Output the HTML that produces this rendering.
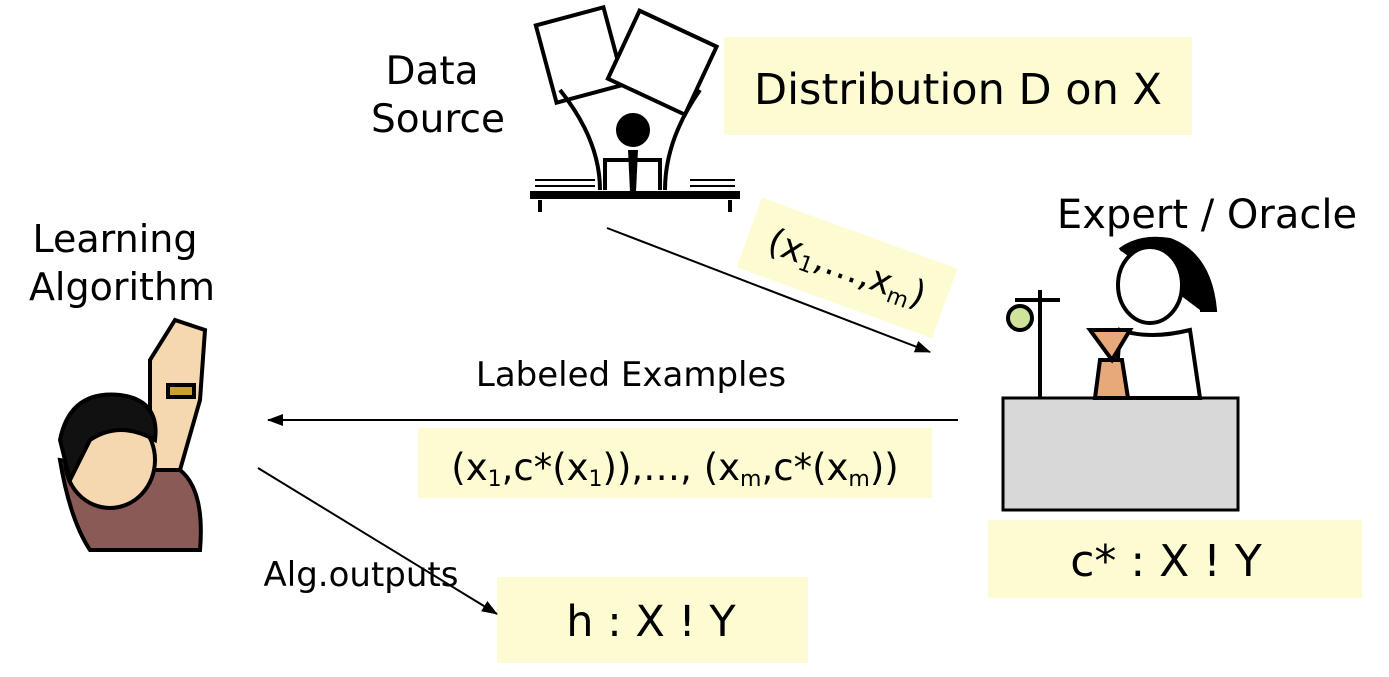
<!DOCTYPE html>
<html><head><meta charset="utf-8"><style>
body{margin:0;width:1389px;height:677px;background:#fff;overflow:hidden;font-family:"Comic Sans MS","DejaVu Sans","Liberation Sans",sans-serif;}
svg{position:absolute;left:0;top:0}
</style></head><body>
<svg width="1389" height="677" viewBox="0 0 1389 677" font-family="'Comic Sans MS','DejaVu Sans','Liberation Sans',sans-serif">
<defs><marker id="a" markerWidth="16" markerHeight="12" refX="15" refY="6" orient="auto" markerUnits="userSpaceOnUse"><path d="M0,0 L16,6 L0,12 z" fill="#000"/></marker></defs>
<rect x="724" y="37" width="468" height="98" fill="#fdfbd2"/>
<text x="958" y="104" font-size="43" text-anchor="middle">Distribution D on X</text>
<rect x="418" y="428" width="514" height="70" fill="#fdfbd2"/>
<text x="675" y="480" font-size="37" text-anchor="middle">(x<tspan font-size="22" dy="6">1</tspan><tspan dy="-6">,c*(x</tspan><tspan font-size="22" dy="6">1</tspan><tspan dy="-6">)),…, (x</tspan><tspan font-size="22" dy="6">m</tspan><tspan dy="-6">,c*(x</tspan><tspan font-size="22" dy="6">m</tspan><tspan dy="-6">))</tspan></text>
<rect x="988" y="520" width="374" height="78" fill="#fdfbd2"/>
<text x="1166" y="576" font-size="44" text-anchor="middle">c* : X ! Y</text>
<rect x="497" y="577" width="311" height="86" fill="#fdfbd2"/>
<text x="651" y="636" font-size="43" text-anchor="middle">h : X ! Y</text>
<g transform="translate(847,268) rotate(20)">
<rect x="-104" y="-37" width="208" height="74" fill="#fdfbd2"/>
<text x="0" y="12" font-size="36" text-anchor="middle">(x<tspan font-size="22" dy="6">1</tspan><tspan dy="-6">,…,x</tspan><tspan font-size="22" dy="6">m</tspan><tspan dy="-6">)</tspan></text>
</g>
<text x="432" y="84" font-size="39" text-anchor="middle">Data</text>
<text x="438" y="132" font-size="39" text-anchor="middle">Source</text>
<text x="1207" y="228" font-size="40" text-anchor="middle">Expert / Oracle</text>
<text x="115" y="252" font-size="38" text-anchor="middle">Learning</text>
<text x="122" y="300" font-size="38" text-anchor="middle">Algorithm</text>
<text x="631" y="386" font-size="34" text-anchor="middle">Labeled Examples</text>
<text x="361" y="586" font-size="34" text-anchor="middle">Alg.outputs</text>
<line x1="607" y1="228" x2="930" y2="352" stroke="#000" stroke-width="2" marker-end="url(#a)"/>
<line x1="958" y1="420" x2="268" y2="420" stroke="#000" stroke-width="2" marker-end="url(#a)"/>
<line x1="258" y1="468" x2="497" y2="614" stroke="#000" stroke-width="2" marker-end="url(#a)"/>
<g stroke="#000" stroke-width="4" fill="none">
<rect x="545" y="15" width="70" height="80" transform="rotate(-15 580 55)" fill="#fff"/>
<rect x="620" y="25" width="85" height="75" transform="rotate(25 662 62)" fill="#fff"/>
<path d="M560 90 Q600 140 600 190 M700 90 Q665 140 665 190"/>
<circle cx="633" cy="130" r="15" fill="#000"/>
<path d="M605 190 L605 160 L660 160 L660 190"/>
<path d="M530 195 L740 195" stroke-width="8"/>
<path d="M540 200 L540 212 M730 200 L730 212" />
<path d="M535 180 L595 180 M535 186 L595 186 M690 180 L735 180 M690 186 L735 186" stroke-width="2"/>
</g>
<path d="M628 150 L638 150 L636 192 L630 192 z" fill="#000"/>
<rect x="1003" y="398" width="235" height="112" fill="#d8d8d8" stroke="#000" stroke-width="3"/>
<g stroke="#000" stroke-width="4" fill="none">
<path d="M1120 250 Q1140 235 1170 240 Q1210 255 1215 310 L1200 310" fill="#000"/>
<ellipse cx="1150" cy="285" rx="32" ry="38" fill="#fff"/>
<path d="M1120 330 Q1150 340 1190 330 L1200 398 L1115 398 Z" fill="#fff"/>
<path d="M1040 290 L1040 398 M1015 300 L1060 300"/>
<circle cx="1020" cy="318" r="12" fill="#cfe39a"/>
<path d="M1090 330 L1130 330 L1112 360 Z M1100 360 L1122 360 L1128 398 L1095 398 Z" fill="#e7a87a"/>
</g>
<g stroke="#000" stroke-width="4">
<path d="M150 360 L175 320 L205 330 L200 400 L180 470 L150 470 Z" fill="#f5d7b0"/>
<path d="M60 460 Q70 520 90 550 L200 550 Q205 490 180 470 L120 470 Z" fill="#8a5a56"/>
<ellipse cx="110" cy="460" rx="45" ry="48" fill="#f5d7b0"/>
<path d="M60 440 Q70 390 120 395 Q160 400 155 440 Q120 420 90 440 L70 480 Z" fill="#111"/>
<rect x="168" y="385" width="26" height="12" fill="#c9a030"/>
</g>
</svg>
</body></html>
